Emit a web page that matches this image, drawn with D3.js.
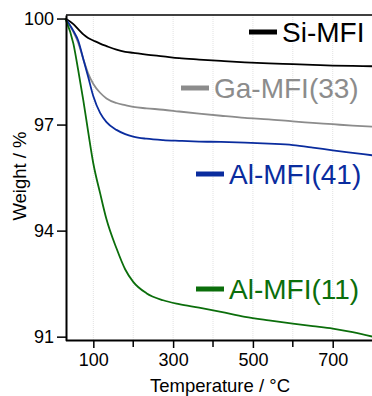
<!DOCTYPE html>
<html>
<head>
<meta charset="utf-8">
<script src="https://cdn.jsdelivr.net/npm/d3@7"></script>
<style>
  body { margin: 0; background: #fff; }
  svg { display: block; font-family: "Liberation Sans", Arial, sans-serif; }
</style>
</head>
<body>
<div id="chart"></div>
<script>
// temperature grid (°C) shared by all curves
var temps = [30, 50, 62, 75, 87, 100, 117, 133, 158, 180, 200, 233, 275, 315, 365, 420, 480, 540, 600, 650, 700, 750, 800];

// weight %
var siMFI = [100, 99.84, 99.7, 99.55, 99.45, 99.38, 99.29, 99.22, 99.12, 99.06, 99.03, 98.98, 98.93, 98.88, 98.84, 98.80, 98.76, 98.73, 98.71, 98.69, 98.67, 98.66, 98.65];
var gaMFI33 = [100, 99.62, 99.32, 98.85, 98.45, 98.15, 97.9, 97.74, 97.61, 97.55, 97.5, 97.46, 97.42, 97.37, 97.31, 97.25, 97.19, 97.15, 97.09, 97.05, 97.01, 96.97, 96.94];
var alMFI41 = [100, 99.65, 99.38, 98.85, 98.35, 97.8, 97.33, 97.07, 96.85, 96.73, 96.66, 96.6, 96.56, 96.54, 96.52, 96.51, 96.49, 96.46, 96.42, 96.35, 96.27, 96.2, 96.13];
var alMFI11 = [100, 99.29, 98.55, 97.68, 96.8, 95.9, 95.06, 94.32, 93.5, 92.9, 92.55, 92.23, 92.03, 91.92, 91.82, 91.7, 91.56, 91.46, 91.37, 91.3, 91.23, 91.13, 91.0];

var seriesNames = ["Si-MFI", "Ga-MFI(33)", "Al-MFI(41)", "Al-MFI(11)"];
var seriesColors = ["#000000", "#8c8c8c", "#0a2c9e", "#0b6e0b"];

var yTicks = [91, 94, 97, 100];
var xMajor = [100, 300, 500, 700];
var xMinor = [200, 400, 600];
var xGrid = [100, 200, 300, 400, 500, 600, 700];

var width = 372, height = 396;

var svg = d3.select("#chart").append("svg")
  .attr("width", width)
  .attr("height", height);

var x = d3.scaleLinear().domain([30, 800]).range([65.4, 372.6]);
var y = d3.scaleLinear().domain([90.9, 100.1]).range([340.2, 15]);

// faint vertical grid
svg.append("g").selectAll("line")
  .data(xGrid)
  .join("line")
  .attr("x1", d => x(d)).attr("x2", d => x(d))
  .attr("y1", y(100.1)).attr("y2", y(90.9))
  .attr("stroke", "#e2e2e2")
  .attr("stroke-width", 1)
  .attr("stroke-dasharray", "1,1");

// top frame line
svg.append("line")
  .attr("x1", 66).attr("x2", width)
  .attr("y1", y(100.1)).attr("y2", y(100.1))
  .attr("stroke", "#000").attr("stroke-width", 1.5);

// curves
var allSeries = [siMFI, gaMFI33, alMFI41, alMFI11];
var line = d3.line()
  .x(d => x(d[0]))
  .y(d => y(d[1]))
  .curve(d3.curveMonotoneX);

allSeries.forEach(function(vals, i) {
  var pts = temps.map((t, j) => [t, vals[j]]);
  svg.append("path")
    .attr("d", line(pts))
    .attr("fill", "none")
    .attr("stroke", seriesColors[i])
    .attr("stroke-width", 1.8);
});

// y axis
var yAxis = svg.append("g")
  .attr("transform", "translate(66,0)")
  .call(d3.axisLeft(y).tickValues(yTicks).tickSize(9).tickPadding(3).tickSizeOuter(0));
yAxis.select(".domain").attr("stroke-width", 2);
yAxis.selectAll(".tick line").attr("stroke-width", 1.5);
yAxis.selectAll("text").attr("font-size", 18).attr("fill", "#000")
  .attr("font-family", "Liberation Sans, Arial, sans-serif");

// x axis
var xAxis = svg.append("g")
  .attr("transform", "translate(0,340)")
  .call(d3.axisBottom(x).tickValues(xMajor).tickSize(8).tickPadding(5).tickSizeOuter(0));
xAxis.select(".domain").attr("stroke-width", 2);
xAxis.selectAll(".tick line").attr("stroke-width", 1.5);
xAxis.selectAll("text").attr("font-size", 18).attr("fill", "#000")
  .attr("font-family", "Liberation Sans, Arial, sans-serif");

// minor x ticks
svg.append("g").selectAll("line")
  .data(xMinor)
  .join("line")
  .attr("x1", d => x(d)).attr("x2", d => x(d))
  .attr("y1", 340).attr("y2", 347)
  .attr("stroke", "#000").attr("stroke-width", 1.5);

// axis titles
svg.append("text")
  .attr("x", 220).attr("y", 392)
  .attr("text-anchor", "middle")
  .attr("font-size", 18.5)
  .text("Temperature / °C");

svg.append("text")
  .attr("transform", "translate(26,176) rotate(-90)")
  .attr("text-anchor", "middle")
  .attr("font-size", 18.5)
  .text("Weight / %");

// legend labels next to curves
var legendX = [282, 214, 229, 229];
var legendY = [42, 98, 184, 299];
seriesNames.forEach(function(name, i) {
  svg.append("line")
    .attr("x1", legendX[i] - 33).attr("x2", legendX[i] - 5)
    .attr("y1", legendY[i] - 10).attr("y2", legendY[i] - 10)
    .attr("stroke", seriesColors[i])
    .attr("stroke-width", 5);
  svg.append("text")
    .attr("x", legendX[i]).attr("y", legendY[i])
    .attr("font-size", 28)
    .attr("fill", seriesColors[i])
    .text(name);
});
</script>
</body>
</html>
